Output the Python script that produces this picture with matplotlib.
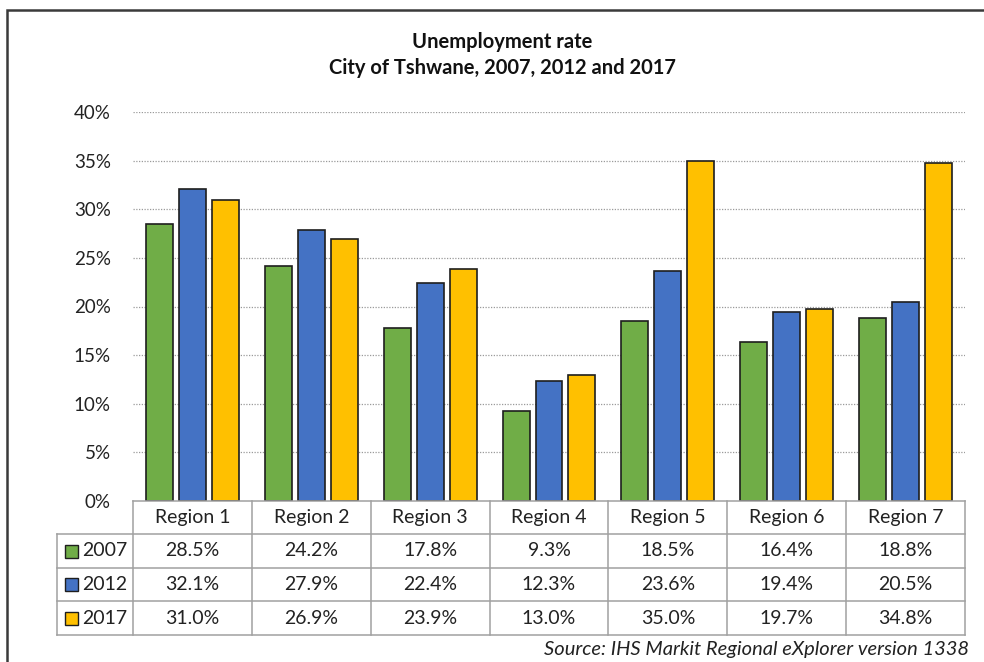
import matplotlib
matplotlib.use("Agg")
import matplotlib.pyplot as plt
from matplotlib.patches import Rectangle
from matplotlib.lines import Line2D
import numpy as np

plt.rcParams['font.family'] = ['Lato', 'DejaVu Sans']

regions = ["Region 1", "Region 2", "Region 3", "Region 4", "Region 5", "Region 6", "Region 7"]
years = ["2007", "2012", "2017"]
v2007 = [28.5, 24.2, 17.8, 9.3, 18.5, 16.4, 18.8]
v2012 = [32.1, 27.9, 22.4, 12.3, 23.6, 19.4, 20.5]
v2017 = [31.0, 26.9, 23.9, 13.0, 35.0, 19.7, 34.8]
yticks = [0, 5, 10, 15, 20, 25, 30, 35, 40]
colors = ["#70AD47", "#4472C4", "#FFC000"]
series = [v2007, v2012, v2017]

W, H = 984, 662
fig = plt.figure(figsize=(W / 100, H / 100), dpi=100)

def fx(px):
    return px / W

def fy(py):
    return 1 - py / H

# outer frame
fig.add_artist(Rectangle((fx(7), fy(700)), fx(1050), 690 / H, transform=fig.transFigure,
                         fill=False, edgecolor="#3a3a3a", linewidth=1.8))

# chart axes
x0, x1, ytop, ybot = 133, 965, 112, 501
ax = fig.add_axes([fx(x0), fy(ybot), fx(x1 - x0), (ybot - ytop) / H])
n = len(regions)
x = np.arange(n)
bw = 0.227
gap = 0.05
for i, (vals, c) in enumerate(zip(series, colors)):
    ax.bar(x + (i - 1) * (bw + gap), vals, width=bw, color=c, edgecolor="#1e1e1e",
           linewidth=1.2, zorder=3)
ax.set_xlim(-0.5, n - 0.5)
ax.set_ylim(0, 40)
ax.set_yticks(yticks)
ax.set_yticklabels([f"{t}%" for t in yticks], fontsize=13.5, color="#222222")
ax.set_xticks([])
for s in ax.spines.values():
    s.set_visible(False)
ax.tick_params(axis='y', length=0, pad=16)
for t in yticks[1:]:
    ax.axhline(t, color="#9a9a9a", linestyle=(0, (1, 1.2)), linewidth=0.9, zorder=1)

# title
fig.text(fx(502), fy(42), "Unemployment rate", ha="center", va="center",
         fontsize=14.5, fontweight="bold", color="#111111")
fig.text(fx(502), fy(68), "City of Tshwane, 2007, 2012 and 2017", ha="center", va="center",
         fontsize=14.5, fontweight="bold", color="#111111")

# data table
tl = 57
rows_y = [501, 534, 568, 601, 635]
col_w = (x1 - x0) / n
lc = "#a0a0a0"
lw = 1.1
fs = 14
fig.add_artist(Line2D([fx(x0), fx(x1)], [fy(rows_y[0])] * 2, color=lc, lw=lw))
for ry in rows_y[1:]:
    fig.add_artist(Line2D([fx(tl), fx(x1)], [fy(ry)] * 2, color=lc, lw=lw))
fig.add_artist(Line2D([fx(tl), fx(tl)], [fy(rows_y[1]), fy(rows_y[-1])], color=lc, lw=lw))
for j in range(n + 1):
    xx = x0 + j * col_w
    fig.add_artist(Line2D([fx(xx), fx(xx)], [fy(rows_y[0]), fy(rows_y[-1])], color=lc, lw=lw))
for j, r in enumerate(regions):
    fig.text(fx(x0 + (j + 0.5) * col_w), fy((rows_y[0] + rows_y[1]) / 2), r,
             ha="center", va="center", fontsize=fs, color="#222222")
for i, (yr, vals, c) in enumerate(zip(years, series, colors)):
    cy = (rows_y[i + 1] + rows_y[i + 2]) / 2
    fig.add_artist(Rectangle((fx(65), fy(cy + 6.5)), fx(13), 13 / H, transform=fig.transFigure,
                             facecolor=c, edgecolor="#1e1e1e", linewidth=1.0))
    fig.text(fx(82), fy(cy), yr, ha="left", va="center", fontsize=fs, color="#222222")
    for j, v in enumerate(vals):
        fig.text(fx(x0 + (j + 0.5) * col_w), fy(cy), f"{v:.1f}%",
                 ha="center", va="center", fontsize=fs, color="#222222")

# source
fig.text(fx(969), fy(650), "Source: IHS Markit Regional eXplorer version 1338",
         ha="right", va="center", fontsize=14.5, style="italic", color="#222222")

fig.savefig("out.png", dpi=100)
